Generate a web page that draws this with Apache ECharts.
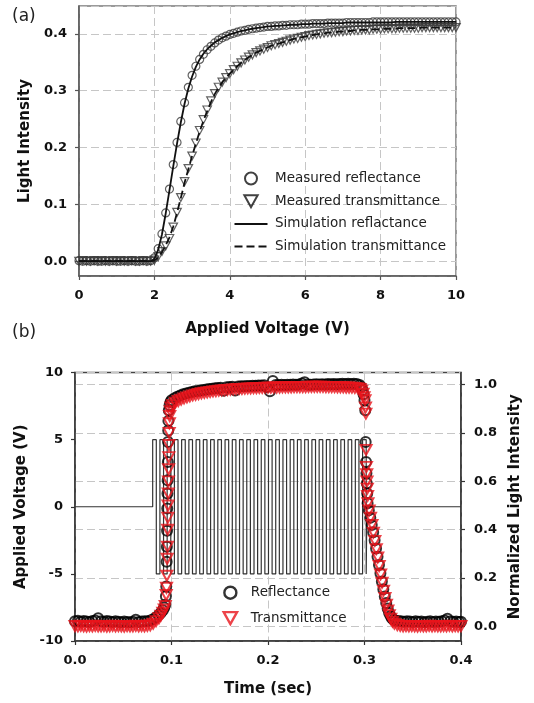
<!DOCTYPE html>
<html>
<head>
<meta charset="utf-8">
<script src="https://cdn.jsdelivr.net/npm/echarts@6/dist/echarts.min.js"></script>
<style>
html,body{margin:0;padding:0;background:#fff;}
#chart{width:534px;height:703px;}
</style>
</head>
<body>
<div id="chart"></div>
<script>
// ---------- Panel (a) ----------
const voltages = [
  0.0,0.1,0.2,0.3,0.4,0.5,0.6,0.7,0.8,0.9,
  1.0,1.1,1.2,1.3,1.4,1.5,1.6,1.7,1.8,1.9,
  2.0,2.1,2.2,2.3,2.4,2.5,2.6,2.7,2.8,2.9,
  3.0,3.1,3.2,3.3,3.4,3.5,3.6,3.7,3.8,3.9,
  4.0,4.1,4.2,4.3,4.4,4.5,4.6,4.7,4.8,4.9,
  5.0,5.1,5.2,5.3,5.4,5.5,5.6,5.7,5.8,5.9,
  6.0,6.1,6.2,6.3,6.4,6.5,6.6,6.7,6.8,6.9,
  7.0,7.1,7.2,7.3,7.4,7.5,7.6,7.7,7.8,7.9,
  8.0,8.1,8.2,8.3,8.4,8.5,8.6,8.7,8.8,8.9,
  9.0,9.1,9.2,9.3,9.4,9.5,9.6,9.7,9.8,9.9,
  10.0
];
const measuredReflectance = [
  0.001,0.000,0.001,0.000,0.001,0.000,0.000,0.001,0.000,0.001,
  0.000,0.000,0.001,0.000,0.001,0.000,0.000,0.001,0.000,0.001,
  0.006,0.022,0.048,0.085,0.127,0.170,0.209,0.246,0.279,0.306,
  0.327,0.343,0.355,0.364,0.372,0.378,0.384,0.389,0.393,0.396,
  0.399,0.401,0.403,0.405,0.406,0.408,0.409,0.410,0.411,0.412,
  0.413,0.413,0.414,0.414,0.415,0.415,0.416,0.416,0.416,0.417,
  0.417,0.417,0.418,0.418,0.418,0.418,0.419,0.419,0.419,0.419,
  0.419,0.420,0.420,0.420,0.420,0.420,0.420,0.420,0.421,0.421,
  0.421,0.421,0.421,0.421,0.421,0.421,0.421,0.421,0.421,0.421,
  0.421,0.421,0.421,0.421,0.421,0.421,0.421,0.421,0.421,0.421,
  0.421
];
const measuredTransmittance = [
  0.000,0.001,0.000,0.000,0.001,0.000,0.001,0.000,0.000,0.001,
  0.000,0.001,0.000,0.000,0.001,0.000,0.000,0.001,0.000,0.000,
  0.002,0.008,0.017,0.027,0.040,0.060,0.086,0.112,0.140,0.163,
  0.185,0.208,0.230,0.249,0.266,0.282,0.295,0.306,0.315,0.323,
  0.330,0.337,0.343,0.349,0.354,0.359,0.363,0.367,0.370,0.373,
  0.376,0.379,0.381,0.383,0.385,0.387,0.389,0.391,0.392,0.394,
  0.395,0.397,0.398,0.399,0.400,0.401,0.402,0.402,0.403,0.404,
  0.404,0.405,0.405,0.406,0.406,0.407,0.407,0.407,0.408,0.408,
  0.408,0.409,0.409,0.409,0.409,0.410,0.410,0.410,0.410,0.410,
  0.410,0.411,0.411,0.411,0.411,0.411,0.411,0.411,0.411,0.411,
  0.411
];
const simulationReflectance = [
  0.000,0.000,0.000,0.000,0.000,0.000,0.000,0.000,0.000,0.000,
  0.000,0.000,0.000,0.000,0.000,0.000,0.000,0.000,0.000,0.000,
  0.004,0.020,0.047,0.084,0.125,0.167,0.207,0.244,0.277,0.304,
  0.325,0.342,0.355,0.365,0.373,0.379,0.385,0.389,0.393,0.396,
  0.399,0.401,0.403,0.405,0.406,0.408,0.409,0.410,0.411,0.412,
  0.413,0.413,0.414,0.414,0.415,0.415,0.416,0.416,0.416,0.417,
  0.417,0.417,0.418,0.418,0.418,0.418,0.419,0.419,0.419,0.419,
  0.419,0.420,0.420,0.420,0.420,0.420,0.420,0.420,0.420,0.420,
  0.420,0.420,0.420,0.420,0.421,0.421,0.421,0.421,0.421,0.421,
  0.421,0.421,0.421,0.421,0.421,0.421,0.421,0.421,0.421,0.421,
  0.421
];
const simulationTransmittance = [
  0.000,0.000,0.000,0.000,0.000,0.000,0.000,0.000,0.000,0.000,
  0.000,0.000,0.000,0.000,0.000,0.000,0.000,0.000,0.000,0.000,
  0.001,0.007,0.016,0.028,0.042,0.061,0.085,0.111,0.138,0.162,
  0.185,0.207,0.228,0.247,0.264,0.280,0.294,0.305,0.315,0.323,
  0.330,0.337,0.343,0.349,0.354,0.359,0.363,0.367,0.370,0.373,
  0.376,0.379,0.381,0.383,0.385,0.387,0.389,0.391,0.392,0.394,
  0.395,0.397,0.398,0.399,0.400,0.401,0.402,0.402,0.403,0.404,
  0.404,0.405,0.405,0.406,0.406,0.407,0.407,0.407,0.408,0.408,
  0.408,0.409,0.409,0.409,0.409,0.410,0.410,0.410,0.410,0.410,
  0.410,0.411,0.411,0.411,0.411,0.411,0.411,0.411,0.411,0.411,
  0.411
];

// ---------- Panel (b) ----------
// square-wave drive voltage: switching times (s) and levels (V)
const waveTimes = [
  0.0, 0.0805, 0.08425, 0.088, 0.09175, 0.0955, 0.09925, 0.103, 0.10675, 0.1105, 0.11425,
  0.118, 0.12175, 0.1255, 0.12925, 0.133, 0.13675, 0.1405, 0.14425, 0.148, 0.15175,
  0.1555, 0.15925, 0.163, 0.16675, 0.1705, 0.17425, 0.178, 0.18175, 0.1855, 0.18925,
  0.193, 0.19675, 0.2005, 0.20425, 0.208, 0.21175, 0.2155, 0.21925, 0.223, 0.22675,
  0.2305, 0.23425, 0.238, 0.24175, 0.2455, 0.24925, 0.253, 0.25675, 0.2605, 0.26425,
  0.268, 0.27175, 0.2755, 0.27925, 0.283, 0.28675, 0.2905, 0.29425, 0.298, 0.30175,
  0.3025, 0.4
];
const waveLevels = [
  0, 5, -5, 5, -5, 5, -5, 5, -5, 5, -5,
  5, -5, 5, -5, 5, -5, 5, -5, 5, -5,
  5, -5, 5, -5, 5, -5, 5, -5, 5, -5,
  5, -5, 5, -5, 5, -5, 5, -5, 5, -5,
  5, -5, 5, -5, 5, -5, 5, -5, 5, -5,
  5, -5, 5, -5, 5, -5, 5, -5, 5, -5,
  0, 0
];
// normalized reflectance [time (s), intensity]
const reflectanceData = [
  [0.000,0.022],[0.003,0.024],[0.006,0.020],[0.009,0.023],[0.012,0.021],[0.015,0.019],[0.018,0.023],[0.021,0.025],[0.024,0.034],[0.027,0.022],
  [0.030,0.020],[0.033,0.023],[0.036,0.021],[0.039,0.019],[0.042,0.022],[0.045,0.020],[0.048,0.018],[0.051,0.021],[0.054,0.019],[0.057,0.018],
  [0.060,0.020],[0.063,0.028],[0.066,0.019],[0.069,0.021],[0.072,0.022],[0.075,0.022],
  [0.078,0.025],[0.081,0.030],[0.084,0.038],[0.087,0.048],[0.089,0.057],[0.091,0.067],[0.0925,0.078],[0.0935,0.090],[0.0942,0.125],[0.0946,0.165],
  [0.0950,0.268],[0.0952,0.330],[0.0954,0.396],[0.0956,0.488],[0.0958,0.550],[0.0960,0.605],[0.0962,0.680],[0.0964,0.763],[0.0966,0.810],[0.0968,0.850],
  [0.0972,0.894],[0.0980,0.915],[0.0990,0.928],
  [0.100,0.935],[0.103,0.944],[0.106,0.950],[0.109,0.955],[0.112,0.960],[0.115,0.963],[0.118,0.966],[0.121,0.969],[0.124,0.972],[0.127,0.974],
  [0.130,0.976],[0.133,0.978],[0.136,0.980],[0.139,0.982],[0.142,0.983],[0.145,0.985],[0.148,0.986],[0.151,0.987],[0.154,0.975],[0.157,0.989],
  [0.160,0.990],[0.163,0.991],[0.166,0.976],[0.169,0.992],[0.172,0.993],[0.175,0.993],[0.178,0.994],[0.181,0.994],[0.184,0.995],[0.187,0.995],
  [0.190,0.996],[0.193,0.996],[0.196,0.997],[0.199,0.990],[0.202,0.972],[0.205,1.015],[0.208,0.998],[0.211,0.998],[0.214,0.999],[0.217,0.998],
  [0.220,0.999],[0.223,0.999],[0.226,1.000],[0.229,0.999],[0.232,1.000],[0.235,1.005],[0.238,1.010],[0.241,1.000],[0.244,0.999],[0.247,1.000],
  [0.250,1.001],[0.253,1.000],[0.256,1.001],[0.259,1.000],[0.262,1.002],[0.265,1.001],[0.268,1.002],[0.271,1.001],[0.274,1.002],[0.277,1.003],
  [0.280,1.002],[0.283,1.003],[0.286,1.002],[0.289,1.003],[0.292,1.002],[0.295,0.998],
  [0.2965,0.990],[0.2980,0.978],[0.2990,0.960],[0.3000,0.935],[0.3008,0.894],[0.3012,0.763],[0.3016,0.680],[0.3020,0.633],[0.3024,0.592],[0.3028,0.550],
  [0.3032,0.509],[0.3045,0.480],[0.3060,0.450],[0.3075,0.420],[0.3090,0.390],[0.3105,0.356],[0.3120,0.322],[0.3135,0.288],[0.3150,0.254],[0.3165,0.220],
  [0.3180,0.186],[0.3195,0.154],[0.3210,0.124],[0.3225,0.097],[0.3240,0.074],[0.3255,0.056],[0.3270,0.043],[0.3285,0.034],[0.3300,0.028],[0.3320,0.025],
  [0.335,0.023],[0.338,0.022],[0.341,0.020],[0.344,0.022],[0.347,0.021],[0.350,0.019],[0.353,0.022],[0.356,0.020],[0.359,0.021],[0.362,0.018],
  [0.365,0.020],[0.368,0.022],[0.371,0.019],[0.374,0.021],[0.377,0.020],[0.380,0.022],[0.383,0.025],[0.386,0.032],[0.389,0.022],[0.392,0.020],
  [0.395,0.021],[0.398,0.019],[0.400,0.020]
];
// normalized transmittance [time (s), intensity]
const transmittanceData = [
  [0.000,0.002],[0.003,0.000],[0.006,0.003],[0.009,0.001],[0.012,-0.001],[0.015,0.002],[0.018,0.000],[0.021,0.003],[0.024,0.001],[0.027,0.000],
  [0.030,0.002],[0.033,-0.001],[0.036,0.001],[0.039,0.003],[0.042,0.000],[0.045,0.002],[0.048,0.001],[0.051,-0.001],[0.054,0.002],[0.057,0.000],
  [0.060,0.001],[0.063,0.003],[0.066,0.000],[0.069,0.002],[0.072,0.001],[0.075,0.003],
  [0.078,0.005],[0.081,0.012],[0.084,0.022],[0.087,0.034],[0.089,0.045],[0.091,0.057],[0.0925,0.070],[0.0935,0.085],[0.0945,0.130],[0.0948,0.160],
  [0.0952,0.210],[0.0955,0.280],[0.0958,0.330],[0.0960,0.400],[0.0962,0.450],[0.0964,0.500],[0.0966,0.550],[0.0968,0.600],[0.0970,0.650],[0.0972,0.700],
  [0.0974,0.750],[0.0976,0.800],[0.0978,0.840],[0.0982,0.870],[0.0988,0.890],[0.0995,0.905],
  [0.101,0.915],[0.104,0.925],[0.107,0.932],[0.110,0.938],[0.113,0.943],[0.116,0.947],[0.119,0.951],[0.122,0.955],[0.125,0.958],[0.128,0.961],
  [0.131,0.964],[0.134,0.966],[0.137,0.968],[0.140,0.970],[0.143,0.972],[0.146,0.973],[0.149,0.975],[0.152,0.976],[0.155,0.977],[0.158,0.978],
  [0.161,0.979],[0.164,0.980],[0.167,0.981],[0.170,0.982],[0.173,0.982],[0.176,0.983],[0.179,0.984],[0.182,0.984],[0.185,0.985],[0.188,0.985],
  [0.191,0.986],[0.194,0.986],[0.197,0.987],[0.200,0.987],[0.203,0.987],[0.206,0.988],[0.209,0.988],[0.212,0.988],[0.215,0.989],[0.218,0.989],
  [0.221,0.989],[0.224,0.989],[0.227,0.990],[0.230,0.990],[0.233,0.990],[0.236,0.990],[0.239,0.990],[0.242,0.991],[0.245,0.991],[0.248,0.991],
  [0.251,0.991],[0.254,0.991],[0.257,0.991],[0.260,0.990],[0.263,0.990],[0.266,0.990],[0.269,0.990],[0.272,0.989],[0.275,0.989],[0.278,0.989],
  [0.281,0.988],[0.284,0.988],[0.287,0.987],[0.290,0.986],[0.293,0.985],
  [0.2955,0.982],[0.2970,0.975],[0.2985,0.962],[0.2995,0.948],[0.3005,0.935],[0.3010,0.905],[0.3014,0.880],[0.3016,0.730],[0.3020,0.660],[0.3023,0.630],
  [0.3026,0.600],[0.3029,0.570],[0.3032,0.540],[0.3036,0.510],[0.3048,0.480],[0.3062,0.450],[0.3077,0.420],[0.3092,0.388],[0.3107,0.354],[0.3122,0.320],
  [0.3137,0.285],[0.3152,0.250],[0.3167,0.215],[0.3182,0.181],[0.3197,0.148],[0.3212,0.118],[0.3227,0.090],[0.3242,0.066],[0.3257,0.047],[0.3272,0.032],
  [0.3290,0.020],[0.3310,0.012],[0.3340,0.006],
  [0.337,0.003],[0.340,0.001],[0.343,0.002],[0.346,0.000],[0.349,0.002],[0.352,0.001],[0.355,-0.001],[0.358,0.002],[0.361,0.000],[0.364,0.001],
  [0.367,0.003],[0.370,0.000],[0.373,0.002],[0.376,0.001],[0.379,0.000],[0.382,0.002],[0.385,0.001],[0.388,0.003],[0.391,0.000],[0.394,0.002],
  [0.397,0.001],[0.400,0.002]
];

// ---------- build ----------
const FONT = 'DejaVu Sans';
const pairs = (xs, ys) => xs.map((x, i) => [x, ys[i]]);
const waveData = pairs(waveTimes, waveLevels);
const DOWN_TRI = 'path://M0,0 L10,0 L5,9 Z';
const CLEAR = 'rgba(0,0,0,0)';

const tickLabel = {fontFamily: FONT, fontWeight: 'bold', fontSize: 13, color: '#111'};
const nameStyle = {fontFamily: FONT, fontWeight: 'bold', fontSize: 15, color: '#111'};
const dashGrid = {show: true, lineStyle: {type: [8, 4], color: '#c6c6c6', width: 1}};
const axisLineA = {show: true, onZero: false, lineStyle: {color: '#555', width: 1.5}};
const axisLineB = {show: true, onZero: false, lineStyle: {color: '#333', width: 1.5}};
const ticks = (c) => ({show: true, inside: false, length: 4, lineStyle: {color: c, width: 1.2}});
const fmt1 = v => v.toFixed(1);

const option = {
  animation: false,
  backgroundColor: '#fff',
  title: [
    {text: '(a)', left: 12, top: 8, padding: 0, textStyle: {fontFamily: FONT, fontWeight: 'normal', fontSize: 17, color: '#222'}},
    {text: '(b)', left: 12, top: 324, padding: 0, textStyle: {fontFamily: FONT, fontWeight: 'normal', fontSize: 17, color: '#222'}}
  ],
  grid: [
    {left: 79, top: 6, width: 377, height: 270, show: true, borderColor: '#7a7a7a', borderWidth: 1.5, backgroundColor: 'transparent'},
    {left: 75, top: 372.5, width: 386, height: 268.5, show: true, borderColor: '#444', borderWidth: 1.5, backgroundColor: 'transparent'}
  ],
  xAxis: [
    {gridIndex: 0, type: 'value', min: 0, max: 10, interval: 2,
     axisLine: axisLineA, axisTick: ticks('#555'), axisLabel: Object.assign({margin: 13}, tickLabel),
     splitLine: dashGrid,
     name: 'Applied Voltage (V)', nameLocation: 'middle', nameGap: 46, nameTextStyle: nameStyle},
    {gridIndex: 1, type: 'value', min: 0, max: 0.4, interval: 0.1,
     axisLine: axisLineB, axisTick: ticks('#333'), axisLabel: Object.assign({margin: 13, formatter: fmt1}, tickLabel),
     splitLine: dashGrid,
     name: 'Time (sec)', nameLocation: 'middle', nameGap: 41, nameTextStyle: nameStyle}
  ],
  yAxis: [
    {gridIndex: 0, type: 'value', min: -0.026, max: 0.449, splitNumber: 5,
     axisLine: axisLineA, axisTick: ticks('#555'),
     axisLabel: Object.assign({margin: 12, formatter: fmt1, showMinLabel: false, showMaxLabel: false}, tickLabel),
     splitLine: dashGrid,
     name: 'Light Intensity', nameLocation: 'middle', nameGap: 45, nameTextStyle: nameStyle},
    {gridIndex: 1, type: 'value', position: 'left', min: -10, max: 10, interval: 5,
     axisLine: axisLineB, axisTick: ticks('#333'), axisLabel: Object.assign({margin: 12}, tickLabel),
     splitLine: {show: false},
     name: 'Applied Voltage (V)', nameLocation: 'middle', nameGap: 43, nameTextStyle: nameStyle},
    {gridIndex: 1, type: 'value', position: 'right', min: -0.06, max: 1.05, splitNumber: 5,
     axisLine: axisLineB, axisTick: ticks('#333'),
     axisLabel: Object.assign({margin: 13, formatter: fmt1, showMinLabel: false, showMaxLabel: false}, tickLabel),
     splitLine: dashGrid,
     name: 'Normalized Light Intensity', nameLocation: 'middle', nameGap: 46, nameRotate: 90, nameTextStyle: nameStyle}
  ],
  legend: [
    {orient: 'vertical', left: 228.5, top: 166.5, itemWidth: 33, itemHeight: 12, itemGap: 8.7, selectedMode: false,
     textStyle: {fontFamily: FONT, fontSize: 13.5, color: '#222', lineHeight: 14, padding: [0, 0, 0, 2.5]},
     data: [
       {name: 'Measured reflectance', icon: 'circle', itemStyle: {color: CLEAR, borderColor: '#111', borderWidth: 2}},
       {name: 'Measured transmittance', icon: DOWN_TRI, itemStyle: {color: CLEAR, borderColor: '#111', borderWidth: 2}},
       {name: 'Simulation reflactance', itemStyle: {color: CLEAR, borderColor: CLEAR, borderWidth: 0, opacity: 0}},
       {name: 'Simulation transmittance', itemStyle: {color: CLEAR, borderColor: CLEAR, borderWidth: 0, opacity: 0}}
     ]},
    {orient: 'vertical', left: 217.5, top: 580.5, itemWidth: 31, itemHeight: 12, itemGap: 11, selectedMode: false,
     textStyle: {fontFamily: FONT, fontSize: 13.5, color: '#222', lineHeight: 14},
     data: [
       {name: 'Reflectance', icon: 'circle', itemStyle: {color: CLEAR, borderColor: '#000', borderWidth: 2.4}},
       {name: 'Transmittance', icon: DOWN_TRI, itemStyle: {color: CLEAR, borderColor: '#e8141b', borderWidth: 2.4}}
     ]}
  ],
  series: [
    {name: 'Measured reflectance', type: 'scatter', xAxisIndex: 0, yAxisIndex: 0, clip: false,
     data: pairs(voltages, measuredReflectance), symbol: 'circle', symbolSize: 8,
     itemStyle: {color: CLEAR, borderColor: '#3a3a3a', borderWidth: 1.2}, z: 2},
    {name: 'Measured transmittance', type: 'scatter', xAxisIndex: 0, yAxisIndex: 0, clip: false,
     data: pairs(voltages, measuredTransmittance), symbol: DOWN_TRI, symbolSize: [8.5, 8],
     itemStyle: {color: CLEAR, borderColor: '#3a3a3a', borderWidth: 1.2}, z: 2},
    {name: 'Simulation reflactance', type: 'line', xAxisIndex: 0, yAxisIndex: 0,
     data: pairs(voltages, simulationReflectance), symbol: 'none', showSymbol: false,
     lineStyle: {color: '#111', width: 1.8, type: 'solid'}, itemStyle: {color: '#111'}, z: 3},
    {name: 'Simulation transmittance', type: 'line', xAxisIndex: 0, yAxisIndex: 0,
     data: pairs(voltages, simulationTransmittance), symbol: 'none', showSymbol: false,
     lineStyle: {color: '#111', width: 1.8, type: [8, 4]}, itemStyle: {color: '#111'}, z: 3},

    {name: 'Applied voltage', type: 'line', xAxisIndex: 1, yAxisIndex: 1, step: 'end',
     data: waveData, symbol: 'none', showSymbol: false,
     lineStyle: {color: '#333', width: 1.2}, z: 1},
    {name: 'Reflectance', type: 'scatter', xAxisIndex: 1, yAxisIndex: 2, clip: false,
     data: reflectanceData, symbol: 'circle', symbolSize: 10,
     itemStyle: {color: CLEAR, borderColor: '#000', borderWidth: 2}, z: 2},
    {name: 'Transmittance', type: 'scatter', xAxisIndex: 1, yAxisIndex: 2, clip: false,
     data: transmittanceData, symbol: DOWN_TRI, symbolSize: [11, 10],
     itemStyle: {color: CLEAR, borderColor: '#e8141b', borderWidth: 2}, z: 3}
  ]
};

const chart = echarts.init(document.getElementById('chart'), null, {renderer: 'canvas'});
chart.setOption(option);
</script>
</body>
</html>
